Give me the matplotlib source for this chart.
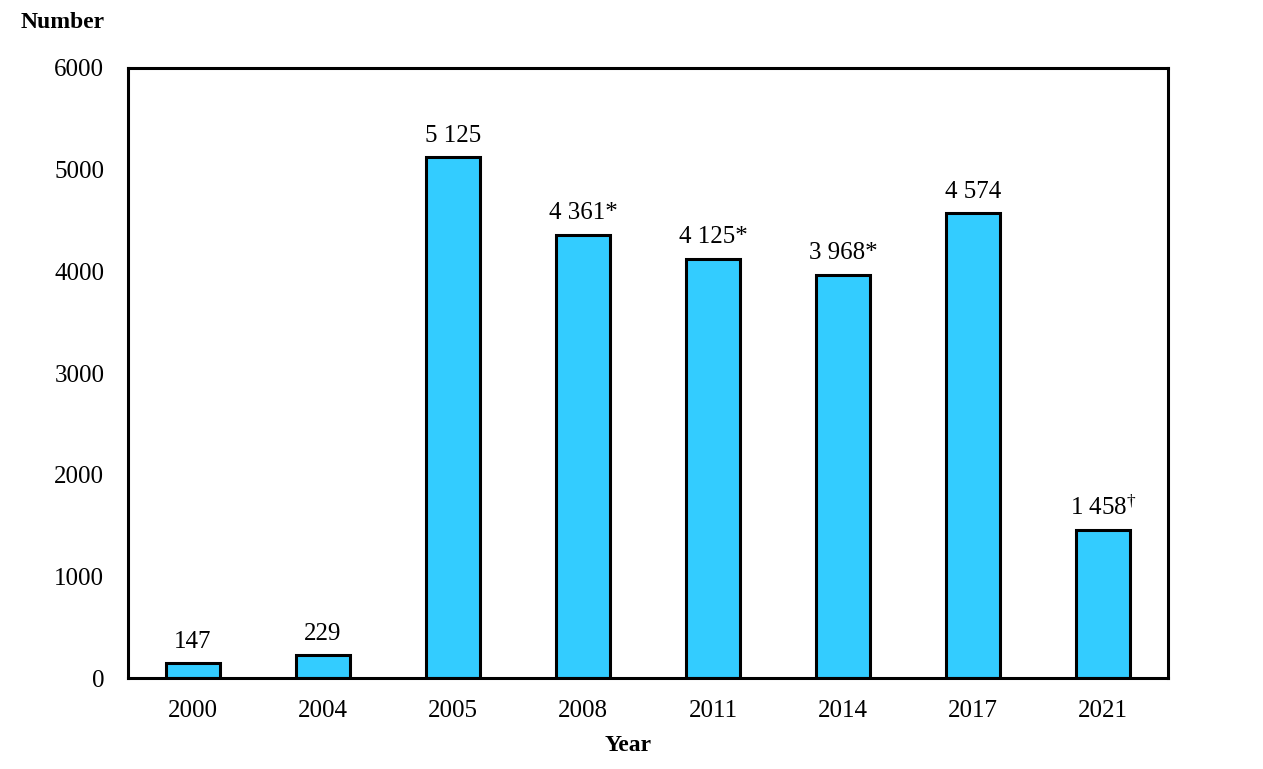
import matplotlib
matplotlib.use("Agg")
import matplotlib.pyplot as plt

plt.rcParams['font.family'] = ['Liberation Serif', 'DejaVu Serif']
plt.rcParams['mathtext.fontset'] = 'custom'
plt.rcParams['mathtext.rm'] = 'Liberation Serif'
plt.rcParams['mathtext.it'] = 'Liberation Serif'

years = ["2000", "2004", "2005", "2008", "2011", "2014", "2017", "2021"]
values = [147, 229, 5125, 4361, 4125, 3968, 4574, 1458]
bar_labels = ["147", "229", "5 125", "4 361*", "4 125*", "3 968*", "4 574",
              "1 458$^{\\dagger}$"]
yticks = [0, 1000, 2000, 3000, 4000, 5000, 6000]

fig = plt.figure(figsize=(12.63, 7.69), dpi=100)
ax = fig.add_axes([0.1013, 0.1183, 0.8235, 0.7933])

x = range(len(years))
ax.bar(x, values, width=0.41, color="#33CCFF", edgecolor="black", linewidth=2.2)

for i, (v, lab) in enumerate(zip(values, bar_labels)):
    ax.text(i, v + 100, lab, ha="center", va="bottom", fontsize=18)

ax.set_xlim(-0.5, len(years) - 0.5)
ax.set_ylim(0, 6000)
ax.set_xticks(list(x))
ax.set_xticklabels(years, fontsize=18)
ax.set_yticks(yticks)
ax.set_yticklabels([str(t) for t in yticks], fontsize=18)
ax.tick_params(length=0)
ax.tick_params(axis="x", pad=16)
ax.tick_params(axis="y", pad=17)
for s in ax.spines.values():
    s.set_linewidth(2.2)

fig.text(0.016, 0.971, "Number", fontsize=17, fontweight="bold", ha="left", va="center")
fig.text(0.497, 0.031, "Year", fontsize=17, fontweight="bold", ha="center", va="center")

fig.savefig("out.png", dpi=100)
